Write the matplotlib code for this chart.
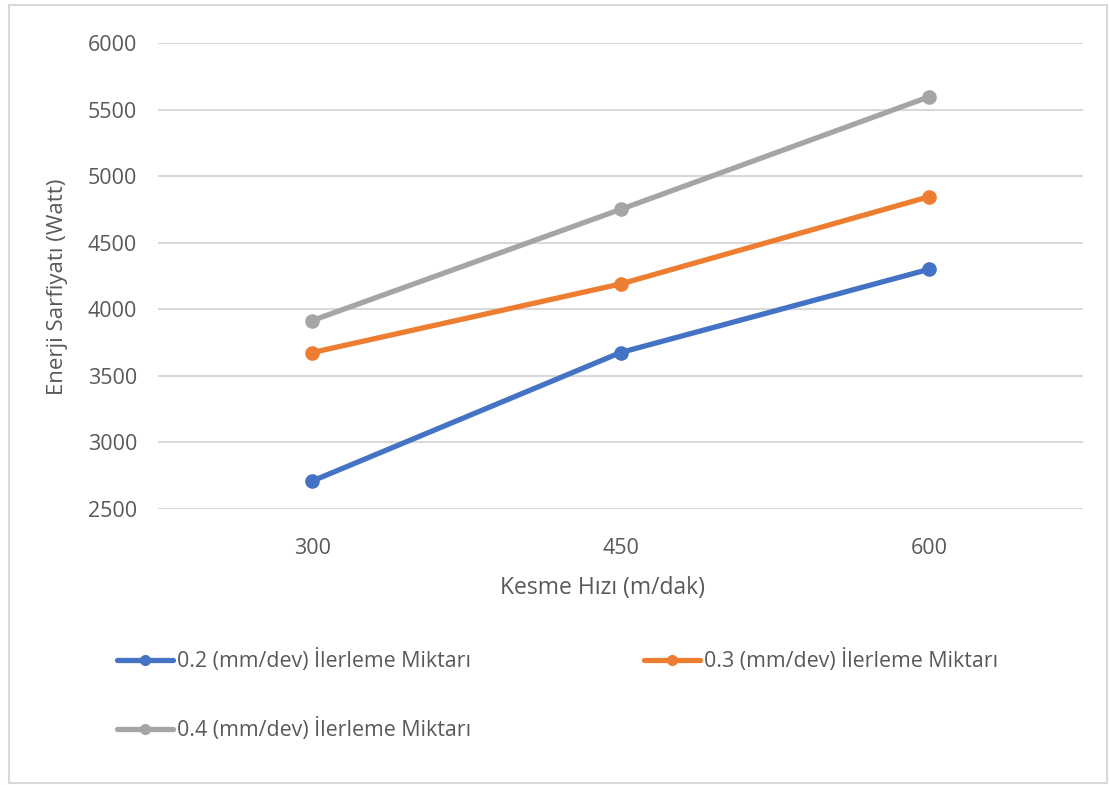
import matplotlib
matplotlib.use("Agg")
import matplotlib.pyplot as plt
from matplotlib.patches import Rectangle

# Data
speeds = ["300", "450", "600"]
feed_labels = [
    "0.2 (mm/dev) İlerleme Miktarı",
    "0.3 (mm/dev) İlerleme Miktarı",
    "0.4 (mm/dev) İlerleme Miktarı",
]
energy_02 = [2710, 3675, 4300]
energy_03 = [3675, 4190, 4845]
energy_04 = [3915, 4750, 5595]
y_ticks = [2500, 3000, 3500, 4000, 4500, 5000, 5500, 6000]

colors = ["#4472C4", "#ED7D31", "#A5A5A5"]
text_color = "#595959"
grid_color = "#D9D9D9"

plt.rcParams["font.family"] = ["Open Sans", "DejaVu Sans"]

W, H = 1109, 785
fig = plt.figure(figsize=(W / 100, H / 100), dpi=100)
fig.patch.set_facecolor("white")

# Outer chart frame
fig.add_artist(Rectangle((9 / W, 1 - 783 / H), (1107 - 9) / W, (783 - 5) / H,
                         transform=fig.transFigure, fill=False,
                         edgecolor=grid_color, linewidth=1.5))

ax = fig.add_axes([158 / W, 1 - 509 / H, (1083 - 158) / W, (509 - 43) / H])
x = list(range(len(speeds)))
handles = []
for series, label, c in zip([energy_02, energy_03, energy_04], feed_labels, colors):
    h, = ax.plot(x, series, color=c, linewidth=3.8, marker="o", markersize=9.5,
                 solid_capstyle="round", label=label, zorder=3)
    handles.append(h)

ax.set_xlim(-0.5, len(speeds) - 0.5)
ax.set_ylim(2500, 6000)
ax.set_yticks(y_ticks)
ax.set_xticks(x)
ax.set_xticklabels(speeds)
ax.yaxis.grid(True, color=grid_color, linewidth=1.5)
ax.set_axisbelow(True)
for s in ax.spines.values():
    s.set_visible(False)
ax.tick_params(axis="both", length=0, labelsize=15.5, colors=text_color)
ax.tick_params(axis="x", pad=21)
ax.tick_params(axis="y", pad=15)

ax.set_xlabel("Kesme Hızı (m/dak)", fontsize=16.5, color=text_color)
ax.set_ylabel("Enerji Sarfiyatı (Watt)", fontsize=16, color=text_color)
ax.xaxis.set_label_coords(0.48, -0.143)
ax.yaxis.set_label_coords(-0.097, 0.476)

# Legend laid out row-wise in two columns
order = [0, 2, 1]
leg = fig.legend([handles[i] for i in order], [feed_labels[i] for i in order],
                 ncol=2, loc="upper left", bbox_to_anchor=(117 / W, 1 - 649 / H),
                 frameon=False, fontsize=15.4, labelcolor=text_color,
                 handlelength=2.6, handletextpad=0.2, columnspacing=8.1,
                 labelspacing=2.15, borderaxespad=0, borderpad=0)
for lh in leg.legend_handles:
    lh.set_markersize(7)

fig.savefig("out.png", dpi=100, facecolor="white")
